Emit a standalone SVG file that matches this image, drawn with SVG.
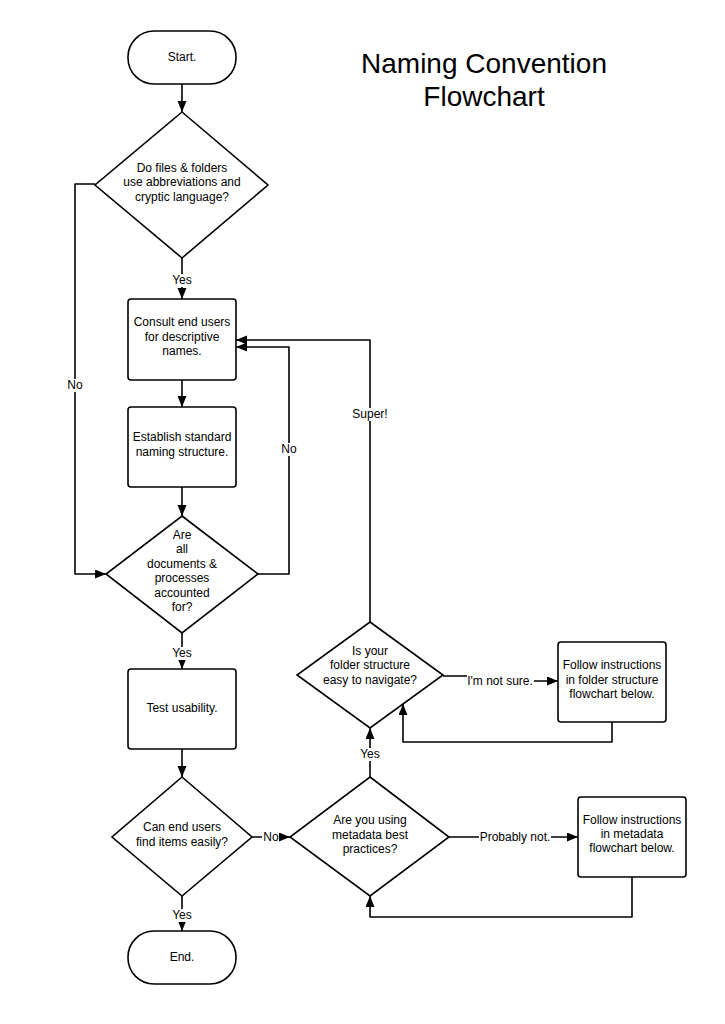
<svg xmlns="http://www.w3.org/2000/svg" width="725" height="1024" viewBox="0 0 725 1024">
<defs>
<marker id="arr" markerUnits="userSpaceOnUse" markerWidth="12" markerHeight="10" refX="11" refY="4.5" orient="auto">
<path d="M0,0 L11,4.5 L0,9 z" fill="#000"/>
</marker>
<style>
.shape{fill:#fff;stroke:#000;stroke-width:1.6;}
.t{font-family:"Liberation Sans",Arial,sans-serif;font-size:12px;fill:#000;text-anchor:middle;}
.title{font-family:"Liberation Sans",Arial,sans-serif;font-size:28px;fill:#000;text-anchor:middle;}
.c{fill:none;stroke:#000;stroke-width:1.6;stroke-linejoin:round;marker-end:url(#arr);}
.lb{fill:#fff;}
</style>
</defs>
<rect width="725" height="1024" fill="#fff"/>

<g id="title">
<text class="title" x="484" y="73">Naming Convention</text>
<text class="title" x="484" y="106">Flowchart</text>
</g>

<g id="connectors">
<path class="c" d="M182,84 V112"/>
<path class="c" d="M182,258 V299"/>
<path class="c" d="M95,184 H75 V574 H106"/>
<path class="c" d="M182,380 V407"/>
<path class="c" d="M182,487 V516"/>
<path class="c" d="M258,574 H289 V347 H236"/>
<path class="c" d="M182,633 V669"/>
<path class="c" d="M182,749 V777"/>
<path class="c" d="M252,837 H290"/>
<path class="c" d="M182,896 V931"/>
<path class="c" d="M449,837 H578"/>
<path class="c" d="M632,877 V917 H370 V896"/>
<path class="c" d="M370,777 V728"/>
<path class="c" d="M370,622 V340 H236"/>
<path class="c" d="M443,676 H500 V681 H558"/>
<path class="c" d="M612,722 V742 H403 V704"/>
<g id="labels">
<rect class="lb" x="171" y="274" width="22" height="13"/><text class="t" x="182" y="284">Yes</text>
<rect class="lb" x="67" y="379" width="17" height="13"/><text class="t" x="75" y="389">No</text>
<rect class="lb" x="281" y="443" width="17" height="13"/><text class="t" x="289" y="453">No</text>
<rect class="lb" x="351" y="408" width="38" height="13"/><text class="t" x="370" y="418">Super!</text>
<rect class="lb" x="171" y="647" width="22" height="13"/><text class="t" x="182" y="657">Yes</text>
<rect class="lb" x="171" y="909" width="22" height="13"/><text class="t" x="182" y="919">Yes</text>
<rect class="lb" x="262" y="831" width="17" height="13"/><text class="t" x="271" y="841">No</text>
<rect class="lb" x="479" y="831" width="72" height="13"/><text class="t" x="515" y="841">Probably not.</text>
<rect class="lb" x="467" y="674" width="67" height="13"/><text class="t" x="500" y="685">I'm not sure.</text>
<rect class="lb" x="359" y="748" width="22" height="13"/><text class="t" x="370" y="758">Yes</text>
</g>
</g>

<g id="start">
<rect class="shape" x="128" y="31" width="108" height="53" rx="26" ry="26"/>
<text class="t" x="182" y="61">Start.</text>
</g>

<g id="d1">
<polygon class="shape" points="182,112 268,185 182,258 95,185"/>
<text class="t" x="182" y="172">Do files &amp; folders</text>
<text class="t" x="182" y="186">use abbreviations and</text>
<text class="t" x="182" y="201">cryptic language?</text>
</g>

<g id="box1">
<rect class="shape" x="128" y="299" width="108" height="81" rx="3"/>
<text class="t" x="182" y="326">Consult end users</text>
<text class="t" x="182" y="341">for descriptive</text>
<text class="t" x="182" y="355">names.</text>
</g>

<g id="box2">
<rect class="shape" x="128" y="407" width="108" height="80" rx="3"/>
<text class="t" x="182" y="441">Establish standard</text>
<text class="t" x="182" y="456">naming structure.</text>
</g>

<g id="d2">
<polygon class="shape" points="182,516 258,574 182,633 106,574"/>
<text class="t" x="182" y="539">Are</text>
<text class="t" x="182" y="553">all</text>
<text class="t" x="182" y="568">documents &amp;</text>
<text class="t" x="182" y="582">processes</text>
<text class="t" x="182" y="597">accounted</text>
<text class="t" x="182" y="611">for?</text>
</g>

<g id="test">
<rect class="shape" x="128" y="669" width="108" height="80" rx="3"/>
<text class="t" x="182" y="712">Test usability.</text>
</g>

<g id="d5">
<polygon class="shape" points="182,777 252,837 182,896 112,837"/>
<text class="t" x="182" y="831">Can end users</text>
<text class="t" x="182" y="846">find items easily?</text>
</g>

<g id="end">
<rect class="shape" x="128" y="931" width="108" height="53" rx="26" ry="26"/>
<text class="t" x="182" y="961">End.</text>
</g>

<g id="d4">
<polygon class="shape" points="370,777 449,837 370,896 290,837"/>
<text class="t" x="370" y="824">Are you using</text>
<text class="t" x="370" y="839">metadata best</text>
<text class="t" x="370" y="853">practices?</text>
</g>

<g id="meta">
<rect class="shape" x="578" y="797" width="108" height="80" rx="3"/>
<text class="t" x="632" y="824">Follow instructions</text>
<text class="t" x="632" y="838">in metadata</text>
<text class="t" x="632" y="852">flowchart below.</text>
</g>

<g id="d3">
<polygon class="shape" points="370,622 443,675 370,728 297,675"/>
<text class="t" x="370" y="655">Is your</text>
<text class="t" x="370" y="669">folder structure</text>
<text class="t" x="370" y="684">easy to navigate?</text>
</g>

<g id="folder">
<rect class="shape" x="558" y="642" width="108" height="80" rx="3"/>
<text class="t" x="612" y="669">Follow instructions</text>
<text class="t" x="612" y="684">in folder structure</text>
<text class="t" x="612" y="698">flowchart below.</text>
</g>
</svg>
